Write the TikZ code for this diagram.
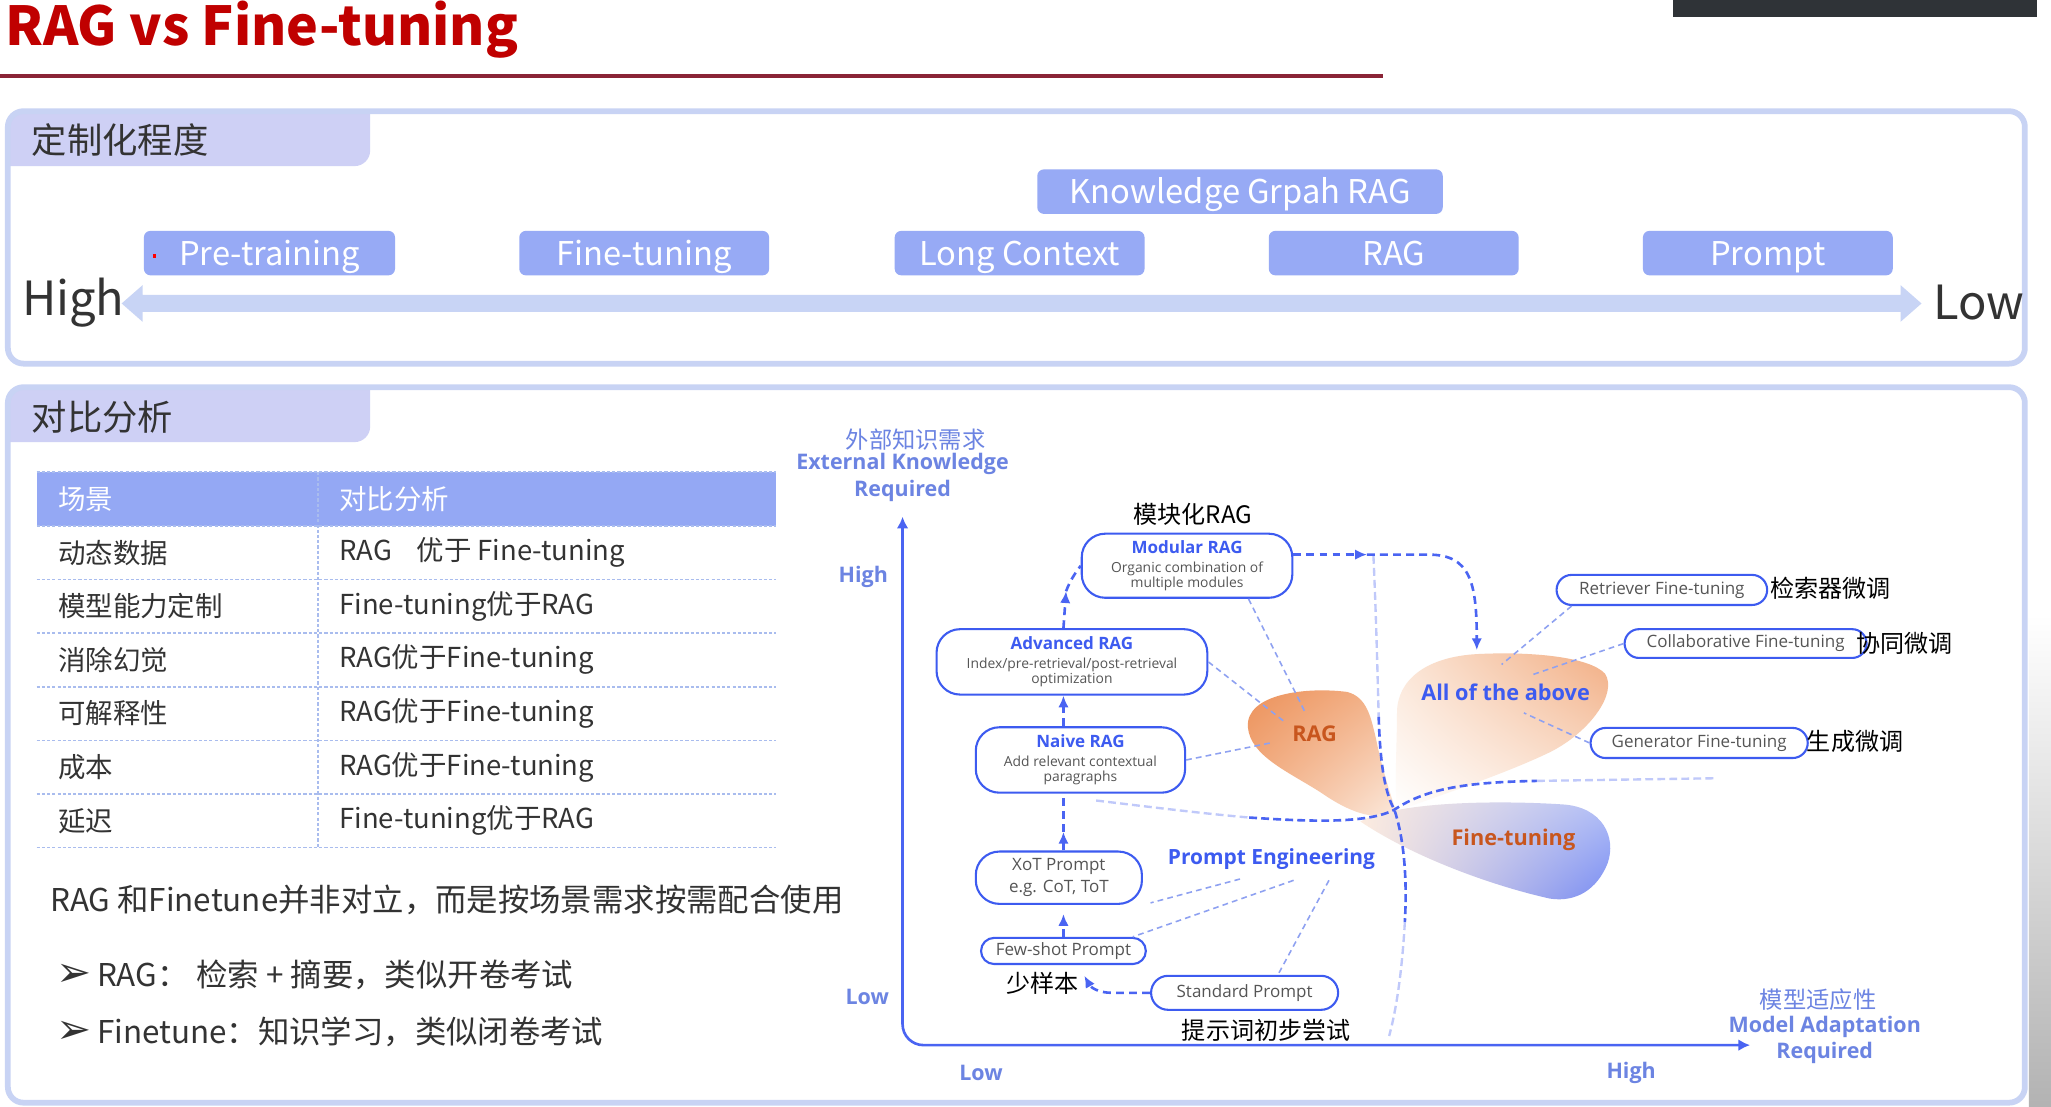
\documentclass[tikz,border=0pt]{standalone}
\usepackage{fontspec}
\setmainfont{Noto Sans CJK SC}
\newfontfamily\dgm{Open Sans}
\newfontfamily\dej{DejaVu Sans}
\usetikzlibrary{arrows.meta,shapes.misc,calc,shadings}
\newcommand\fsz[2]{\fontsize{#1pt}{#2pt}\selectfont}

\definecolor{titlered}{HTML}{C00000}
\definecolor{rulered}{HTML}{8A2436}
\definecolor{screenbar}{HTML}{2F3337}
\definecolor{panelline}{HTML}{C8D3F4}
\definecolor{tabfill}{HTML}{CED0F5}
\definecolor{barfill}{HTML}{97AAF5}
\definecolor{tlcolor}{HTML}{C8D4F5}
\definecolor{textdark}{HTML}{333333}
\definecolor{rulecolor}{HTML}{A9BCEE}
\definecolor{headfill}{HTML}{94A8F4}
\definecolor{axisblue}{HTML}{4A64F2}
\definecolor{nodeblue}{HTML}{3D5BF0}
\definecolor{labelblue}{HTML}{6C84E2}
\definecolor{graytext}{HTML}{555555}
\definecolor{orangetext}{HTML}{C8561E}
\definecolor{linkblue}{HTML}{8EA1F1}
\definecolor{ragdeep}{HTML}{EC9058}
\definecolor{ragmid}{HTML}{F3B48C}
\definecolor{ragpale}{HTML}{FCEBDF}
\definecolor{peach}{HTML}{FBE6D7}
\definecolor{allorange}{HTML}{F1AA7E}
\definecolor{ftblue}{HTML}{7388F3}
\definecolor{ftlight}{HTML}{B3C0F7}

\tikzset{
  slidetext/.style={text=textdark, inner sep=0pt},
  tlbox/.style={fill=barfill, rounded corners=2.5pt, text=white, inner sep=0pt,
    minimum height=17pt, text height=10.5pt, text depth=1.3pt, font=\fsz{12.5}{14}},
  cell/.style={text=textdark, inner sep=0pt, anchor=west, font=\fsz{10.5}{12}},
  headcell/.style={text=white, inner sep=0pt, anchor=west, font=\fsz{10.5}{12}},
  tablerule/.style={draw=rulecolor, line width=0.6pt, dash pattern=on 1.2pt off 0.8pt},
  axisline/.style={draw=axisblue, line width=1pt},
  axislabel/.style={text=labelblue, inner sep=0pt, font=\dgm\bfseries\fsz{8.2}{9}},
  axiscjk/.style={text=labelblue, inner sep=0pt, font=\fsz{8.9}{10}},
  stage/.style={draw=nodeblue, line width=0.8pt, fill=white, rounded corners=9pt,
    align=center, inner sep=0pt, text=graytext, font=\dgm\fsz{5.3}{5.8}},
  pill/.style={draw=nodeblue, line width=0.8pt, fill=white, rounded rectangle,
    inner sep=0pt, text=graytext, font=\dgm\fsz{6.5}{7.5}},
  note/.style={text=black, inner sep=0pt, font=\fsz{9.2}{10}},
  flow/.style={draw=axisblue, line width=1pt, dash pattern=on 3pt off 2pt},
  flowtip/.style={-{Latex[length=4.5pt,width=4pt]}},
  quad/.style={draw=axisblue, line width=1pt, dash pattern=on 3pt off 1.6pt},
  quadlight/.style={draw=axisblue!35, line width=0.9pt, dash pattern=on 3pt off 1.6pt},
  linkline/.style={draw=linkblue, line width=0.6pt, dash pattern=on 2.2pt off 1.6pt},
  blobtext/.style={inner sep=0pt, font=\dgm\bfseries\fsz{8.3}{9}},
}

\begin{document}
\begin{tikzpicture}[x=0.5pt,y=-0.5pt]
\useasboundingbox (0,0) rectangle (1568,846);
\fill[white] (0,0) rectangle (1568,846);

% window strip and backdrop at the edges
\fill[screenbar] (1279,0) rectangle (1557,13);
\shade[top color=white, bottom color=black!30] (1551,470) rectangle (1568,846);

% heading
\node[anchor=base west, inner sep=0pt, text=titlered, font=\bfseries\fsz{20.5}{22}] (title) at (4,35) {RAG vs Fine-tuning};
\draw[rulered, line width=1.8pt] (0,58) -- (1057,58);

% ---------------- panel 1: degree of customisation ----------------
\fill[tabfill] (6,127) -- (6,98) arc[start angle=180,end angle=270,radius=12] -- (283,86)
  -- (283,115) arc[start angle=0,end angle=90,radius=12] -- (6,127) -- cycle;
\draw[panelline, line width=2.2pt, rounded corners=6pt] (6,85) rectangle (1548,278);
\node[slidetext, anchor=west, font=\fsz{13.5}{15}] (tab1) at (24,107) {定制化程度};

\fill[tlcolor] (93,232) -- (109,218) -- (109,225.5) -- (1453,225.5) -- (1453,218) -- (1469,232)
  -- (1453,246) -- (1453,238.5) -- (109,238.5) -- (109,246) -- cycle;
\node[slidetext, font=\fsz{18}{20}] (high) at (56,231) {High};
\node[slidetext, font=\fsz{18}{20}] (low) at (1513,231) {Low};

\node[tlbox, minimum width=96pt] (pre) at (206,193.5) {Pre-training};
\node[tlbox, minimum width=95.5pt] (fine) at (492.5,193.5) {Fine-tuning};
\node[tlbox, minimum width=95.5pt] (long) at (779.5,193.5) {Long Context};
\node[tlbox, minimum width=95.5pt] (ragbar) at (1065.5,193.5) {RAG};
\node[tlbox, minimum width=95.5pt] (prompt) at (1351.5,193.5) {Prompt};
\node[tlbox, minimum width=155pt] (kg) at (948,146.5) {Knowledge Grpah RAG};
\fill[red] (117,194.5) rectangle (119,197.5);

% ---------------- panel 2: comparison ----------------
\fill[tabfill] (6,338) -- (6,308) arc[start angle=180,end angle=270,radius=12] -- (283,296)
  -- (283,326) arc[start angle=0,end angle=90,radius=12] -- (6,338) -- cycle;
\draw[panelline, line width=2.2pt, rounded corners=6pt] (6,296) rectangle (1548,843);
\node[slidetext, anchor=west, font=\fsz{13.5}{15}] (tab2) at (24,319) {对比分析};

% table
\fill[headfill] (28,361) rectangle (593,402);
\node[headcell] (h1) at (44,381.5) {场景};
\node[headcell] (h2) at (259,381.5) {对比分析};
\draw[tablerule] (28,361) -- (593,361);
\foreach \k in {0,...,6} \draw[tablerule] (28,{402+41*\k}) -- (593,{402+41*\k});
\draw[tablerule] (243,361) -- (243,648);
\foreach \i/\a/\b in {1/动态数据/{RAG\hspace{0.9em}优于 Fine-tuning},
                      2/模型能力定制/{Fine-tuning优于RAG},
                      3/消除幻觉/{RAG优于Fine-tuning},
                      4/可解释性/{RAG优于Fine-tuning},
                      5/成本/{RAG优于Fine-tuning},
                      6/延迟/{Fine-tuning优于RAG}} {
  \node[cell] (ra\i) at (44,{381.5+41*\i}) {\a};
  \node[cell] (rb\i) at (259,{381.5+41*\i}) {\b};
}

\node[slidetext, anchor=west, font=\fsz{12}{14}] (summary) at (38,688) {RAG 和Finetune并非对立，而是按场景需求按需配合使用};
\node[slidetext, anchor=west, font=\fsz{12}{14}] (bul1) at (43,745) {{\dej\fsz{16}{16}➢}\hspace{2pt}RAG：\hspace{3pt}检索 + 摘要，类似开卷考试};
\node[slidetext, anchor=west, font=\fsz{12}{14}] (bul2) at (43,789) {{\dej\fsz{16}{16}➢}\hspace{2pt}Finetune：知识学习，类似闭卷考试};

% ---------------- quadrant diagram ----------------
% soft regions
\shade[upper left=ragdeep, upper right=ragmid, lower left=ragmid, lower right=ragpale]
  (954,556) .. controls (952,530) and (1000,525) .. (1030,529)
  .. controls (1045,533) and (1048,548) .. (1052,565)
  .. controls (1056,585) and (1062,605) .. (1068,622)
  .. controls (1050,628) and (1030,620) .. (1010,606)
  .. controls (985,590) and (956,578) .. cycle;
\shade[upper left=peach, upper right=allorange, lower left=white, lower right=peach]
  (1068,545) .. controls (1068,520) and (1090,502) .. (1130,500)
  .. controls (1170,498) and (1215,502) .. (1227,515)
  .. controls (1237,530) and (1215,560) .. (1185,575)
  .. controls (1150,592) and (1095,610) .. (1068,620)
  .. controls (1066,595) and (1068,570) .. cycle;
\shade[upper left=ragpale, upper right=ftlight, lower left=ragpale, lower right=ftblue]
  (1040,628) .. controls (1070,612) and (1150,612) .. (1195,615)
  .. controls (1225,617) and (1236,640) .. (1229,660)
  .. controls (1221,680) and (1205,690) .. (1185,687)
  .. controls (1140,677) and (1080,655) .. cycle;

% axes
\coordinate (ytip) at (690,395);
\coordinate (origin) at (690,799);
\coordinate (xtip) at (1338,799);
\draw[axisline, {Latex[length=4.5pt,width=4.5pt]}-{Latex[length=4.5pt,width=4.5pt]}, rounded corners=8pt] (ytip) -- (origin) -- (xtip);

\node[axiscjk] (yl1) at (700,336) {外部知识需求};
\node[axislabel] (yl2) at (690,355) {External Knowledge};
\node[axislabel] (yl3) at (690,375) {Required};
\node[axislabel] (yhigh) at (660,441) {High};
\node[axislabel] (ylow) at (663,762) {Low};
\node[axislabel] (xlow) at (750,820) {Low};
\node[axislabel] (xhigh) at (1247,820) {High};
\node[axiscjk] (xl1) at (1390,764) {模型适应性};
\node[axislabel] (xl2) at (1395,785) {Model Adaptation};
\node[axislabel] (xl3) at (1395,805) {Required};

% quadrant boundaries
\coordinate (cross) at (1066,619);
\draw[quadlight] (1050,425) .. controls (1052,470) and (1053,510) .. (1054,548);
\draw[quad] (1054,548) .. controls (1055,580) and (1058,605) .. (cross)
  .. controls (1073,640) and (1076,670) .. (1074,705);
\draw[quadlight] (1074,705) .. controls (1072,740) and (1068,770) .. (1062,792);
\draw[quadlight] (838,612) .. controls (880,617) and (920,622) .. (955,625);
\draw[quad] (955,625) .. controls (1000,628) and (1045,630) .. (cross)
  .. controls (1090,603) and (1120,598) .. (1175,597);
\draw[quadlight] (1175,597) -- (1310,595);

% stages
\node[stage, minimum width=80.5pt, minimum height=24.5pt] (modular) at (907.5,432.5)
  {{\fsz{6.5}{7}\bfseries\color{nodeblue}Modular RAG}\\[1.4pt]Organic combination of\\multiple modules};
\node[stage, minimum width=103.5pt, minimum height=25pt] (advanced) at (819.5,506)
  {{\fsz{6.5}{7}\bfseries\color{nodeblue}Advanced RAG}\\[1.4pt]Index/pre-retrieval/post-retrieval\\optimization};
\node[stage, minimum width=80pt, minimum height=25pt] (naive) at (826,581)
  {{\fsz{6.5}{7}\bfseries\color{nodeblue}Naive RAG}\\[1.4pt]Add relevant contextual\\paragraphs};
\node[stage, minimum width=63.5pt, minimum height=20pt, font=\dgm\fsz{6.5}{8.5}] (xot) at (809.5,671)
  {XoT Prompt\\e.g. CoT, ToT};
\node[pill, minimum width=63pt, minimum height=10pt] (few) at (813,727) {Few-shot Prompt};
\node[pill, minimum width=71.5pt, minimum height=13pt] (standard) at (951.5,759) {Standard Prompt};
\node[pill, minimum width=80.5pt, minimum height=11.5pt] (retriever) at (1270.5,451) {Retriever Fine-tuning};
\node[pill, minimum width=92.5pt, minimum height=11pt] (collab) at (1334.5,492) {Collaborative Fine-tuning};
\node[pill, minimum width=83pt, minimum height=11.5pt] (generator) at (1299,568) {Generator Fine-tuning};

\node[note] (modcn) at (912,393.5) {模块化RAG};
\node[note] (fewcn) at (797,752) {少样本};
\node[note] (stdcn) at (968,788) {提示词初步尝试};
\node[note, anchor=west] (retcn) at (1353,450) {检索器微调};
\node[note, anchor=west] (colcn) at (1419,492) {协同微调};
\node[note, anchor=west] (gencn) at (1381,567) {生成微调};

\node[blobtext, text=orangetext] (ragtxt) at (1005,561) {RAG};
\node[blobtext, text=nodeblue] (alltxt) at (1151,529) {All of the above};
\node[blobtext, text=orangetext] (fttxt) at (1157,642) {Fine-tuning};
\node[blobtext, text=nodeblue, font=\dgm\bfseries\fsz{8}{9}] (petxt) at (972,657) {Prompt Engineering};

% progression arrows
\coordinate (ax) at (813,0);
\coordinate (m1) at (813,636);
\coordinate (m2) at (815,452);
\coordinate (m3) at (1045,424);
\coordinate (alltop) at (1129,497);
\coordinate (fewtip) at (829,746);
\draw[flow, flowtip, shorten >=3.5pt] (few.north -| ax) -- (xot.south -| ax);
\draw[flow, flowtip] (xot.north -| ax) -- (m1);
\draw[flow] (m1) -- (naive.south -| ax);
\draw[flow, flowtip] (naive.north -| ax) -- (advanced.south -| ax);
\draw[flow, flowtip] (advanced.north -| ax) -- (m2);
\draw[flow] (m2) .. controls (818,444) and (822,438) .. (modular.west);
\draw[flow, flowtip] ([yshift=4.25pt]modular.east) -- (m3);
\draw[flow, flowtip] (m3) -- (1092,424) .. controls (1124,424) and (1129,445) .. (alltop);
\draw[flow, flowtip] (standard.west) -- (850,759) .. controls (840,759) and (834,755) .. (fewtip);

% links to the regions
\coordinate (ragA) at (998,545);
\coordinate (ragB) at (981,551);
\coordinate (ragC) at (971,568);
\coordinate (pe1) at (948,672);
\coordinate (pe2) at (989,673);
\coordinate (pe3) at (1016,673);
\coordinate (allA) at (1148,508);
\coordinate (allB) at (1171,516);
\coordinate (allC) at (1165,545);
\draw[linkline] ([xshift=23.5pt]modular.south) -- (ragA);
\draw[linkline] (advanced.east) -- (ragB);
\draw[linkline] (naive.east) -- (ragC);
\draw[linkline, shorten >=3pt] (pe1) -- (xot.south east);
\draw[linkline] (pe2) -- (few.north east);
\draw[linkline] (pe3) -- ([xshift=12.75pt]standard.north);
\draw[linkline] (retriever.south west) -- (allA);
\draw[linkline] (collab.west) -- (allB);
\draw[linkline] (generator.west) -- (allC);
\end{tikzpicture}
\end{document}
